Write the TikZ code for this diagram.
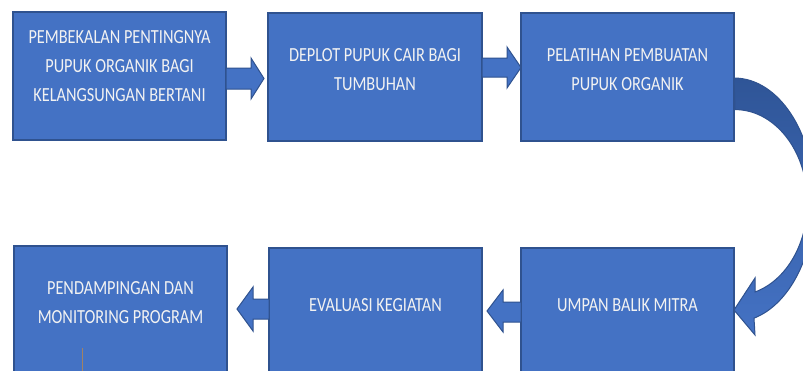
\documentclass[tikz,border=0pt]{standalone}
\usepackage{fontspec}
\setmainfont{Carlito}[FakeStretch=0.815]
\definecolor{boxblue}{RGB}{68,114,196}
\definecolor{boxborder}{RGB}{47,82,143}
\definecolor{arcdark}{RGB}{47,85,151}
\definecolor{txt}{RGB}{242,242,242}
\definecolor{cursorcol}{RGB}{160,130,100}
\begin{document}
\begin{tikzpicture}[x=1pt,y=-1pt,
  box/.style={draw=boxborder,fill=boxblue,line width=1.3pt,inner sep=0pt,outer sep=0pt,anchor=north west},
  lbl/.style={text=txt,align=center,inner sep=0pt,font=\fontsize{20}{29}\selectfont},
  barrow/.style={draw=boxborder,fill=boxblue,line width=1pt,line join=miter}]
\useasboundingbox (0,0) rectangle (803,370);
\clip (0,0) rectangle (803,370);
\fill[white] (0,0) rectangle (803,370);
% boxes
\node[box,minimum width=213pt,minimum height=128pt] (b1) at (13,12) {};
\node[box,minimum width=214pt,minimum height=128pt] (b2) at (268,13) {};
\node[box,minimum width=213pt,minimum height=128pt] (b3) at (521,13) {};
\node[box,minimum width=213pt,minimum height=140pt] (b4) at (14,246) {};
\node[box,minimum width=213pt,minimum height=140pt] (b5) at (269,248) {};
\node[box,minimum width=213pt,minimum height=140pt] (b6) at (521,248) {};
% labels
\node[lbl] (t1) at (119.5,66.5) {PEMBEKALAN PENTINGNYA\\PUPUK ORGANIK BAGI\\KELANGSUNGAN BERTANI};
\node[lbl] (t2) at (375,70) {DEPLOT PUPUK CAIR BAGI\\TUMBUHAN};
\node[lbl] (t3) at (627.5,69.5) {PELATIHAN PEMBUATAN\\PUPUK ORGANIK};
\node[lbl] (t4) at (120.5,302.5) {PENDAMPINGAN DAN\\MONITORING PROGRAM};
\node[lbl] (t5) at (375.5,305) {EVALUASI KEGIATAN};
\node[lbl] (t6) at (627.5,305) {UMPAN BALIK MITRA};
% block arrows
\draw[barrow] (b1.east |- 0,68) -- (251,68) -- (251,58) -- (264,78.5) -- (251,99) -- (251,89) -- (b1.east |- 0,89) -- cycle;
\draw[barrow] (b2.east |- 0,58) -- (507,58) -- (507,47) -- (b3.west |- 0,67.5) -- (507,88) -- (507,77) -- (b2.east |- 0,77) -- cycle;
\draw[barrow] (b6.west |- 0,302) -- (503,302) -- (503,290) -- (487,311) -- (503,332) -- (503,322) -- (b6.west |- 0,322) -- cycle;
\draw[barrow] (b5.west |- 0,299) -- (253,299) -- (253,287) -- (237,309) -- (253,331) -- (253,319) -- (b5.west |- 0,319) -- cycle;
% curved arrow
\shade[top color=arcdark,bottom color=boxblue,draw=boxborder,line width=1pt]
  (b3.east |- 0,78) arc[start angle=-90,end angle=75.6,x radius=80.4,y radius=122]
  -- (755,335) -- (b6.east |- 0,310) -- (755,278) -- (755,292)
  arc[start angle=74,end angle=-90,x radius=72.4,y radius=93] -- cycle;
% cursor mark
\coordinate (cur) at (82,348);
\draw[cursorcol,line width=0.8pt] (cur) -- ++(0,25);
\end{tikzpicture}
\end{document}
